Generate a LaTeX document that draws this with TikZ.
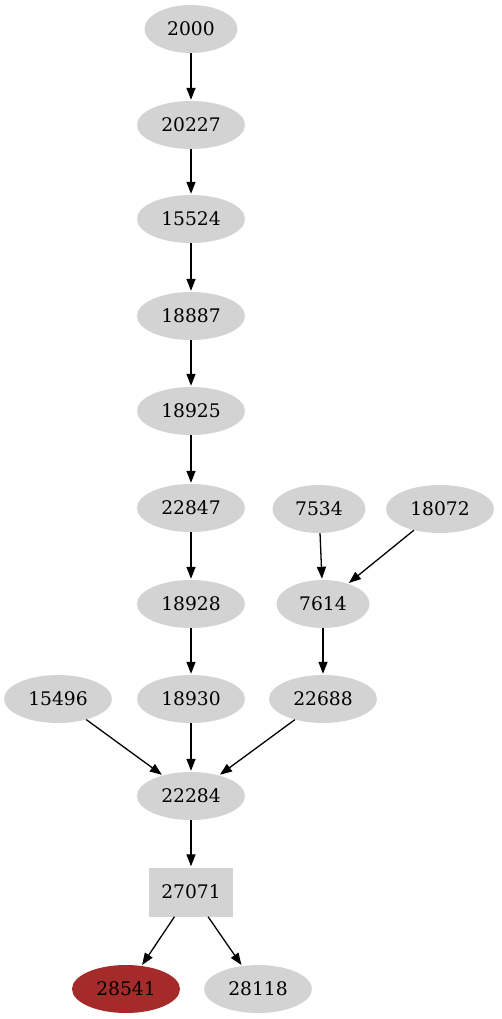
\documentclass[tikz,border=0pt]{standalone}
\usepackage{fontspec}
\setmainfont{DejaVu Serif}
\usetikzlibrary{shapes.geometric,arrows.meta}
\definecolor{gnode}{HTML}{D3D3D3}
\definecolor{rnode}{HTML}{A52A2A}
\tikzset{
  base/.style={fill=gnode, draw=none, inner sep=0pt, font=\fontsize{18.7}{22}\selectfont},
  ell/.style={base, ellipse, minimum width=108pt, minimum height=48pt},
  ellsm/.style={base, ellipse, minimum width=93pt, minimum height=48pt},
  boxn/.style={base, rectangle, minimum width=84pt, minimum height=49pt},
  edge/.style={draw=black, line width=1.3pt, -{Triangle[length=12pt,width=9pt]}, shorten >=1pt}
}
\begin{document}
\begin{tikzpicture}[x=1pt,y=-1pt]
\useasboundingbox (0,0) rectangle (502,1019);
\node[ellsm] (n2000) at (191,29) {2000};
\node[ell] (n20227) at (191,125) {20227};
\node[ell] (n15524) at (191,219) {15524};
\node[ell] (n18887) at (191,316) {18887};
\node[ell] (n18925) at (191,411) {18925};
\node[ell] (n22847) at (191,508) {22847};
\node[ellsm] (n7534) at (319,509) {7534};
\node[ell] (n18072) at (440,509) {18072};
\node[ell] (n18928) at (191,604) {18928};
\node[ellsm] (n7614) at (323,604) {7614};
\node[ell] (n15496) at (58,699) {15496};
\node[ell] (n18930) at (191,699) {18930};
\node[ell] (n22688) at (323,699) {22688};
\node[ell] (n22284) at (191,796) {22284};
\node[boxn] (n27071) at (191,892) {27071};
\node[ell, fill=rnode] (n28541) at (126,989) {28541};
\node[ell] (n28118) at (258,989) {28118};
\draw[edge] (n2000) -- (n20227);
\draw[edge] (n20227) -- (n15524);
\draw[edge] (n15524) -- (n18887);
\draw[edge] (n18887) -- (n18925);
\draw[edge] (n18925) -- (n22847);
\draw[edge] (n22847) -- (n18928);
\draw[edge] (n18928) -- (n18930);
\draw[edge] (n18930) -- (n22284);
\draw[edge] (n7534) -- (n7614);
\draw[edge] (n18072) -- (n7614);
\draw[edge] (n7614) -- (n22688);
\draw[edge] (n15496) -- (n22284);
\draw[edge] (n22688) -- (n22284);
\draw[edge] (n22284) -- (n27071);
\draw[edge] (n27071) -- (n28541);
\draw[edge] (n27071) -- (n28118);
\end{tikzpicture}
\end{document}
